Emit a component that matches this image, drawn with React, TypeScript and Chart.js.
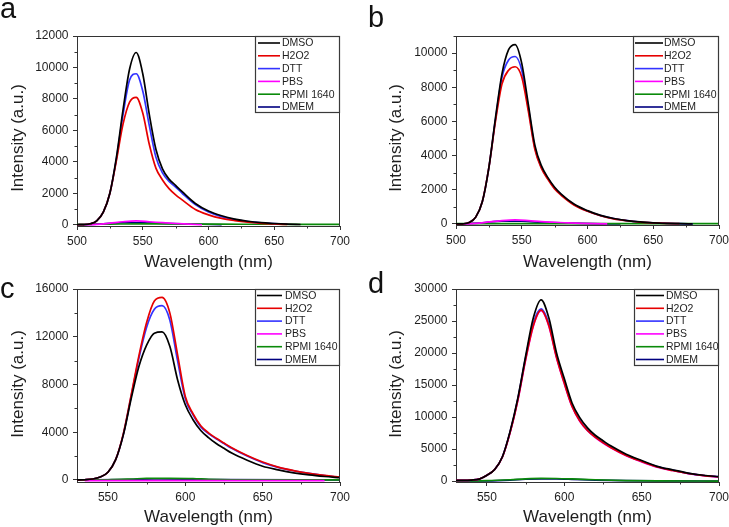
import React, { useEffect, useRef } from "react";
import { Chart, registerables } from "chart.js";
Chart.register(...registerables);

const SERIES_NAMES = ["DMSO", "H2O2", "DTT", "PBS", "RPMI 1640", "DMEM"];
const SERIES_COLORS = ["#000000", "#e60000", "#3333ff", "#ff00ff", "#0a8a0a", "#000080"];
const FONT = '"Liberation Sans", Arial, Helvetica, sans-serif';
const AXIS_COLOR = "#333333";
const TEXT_COLOR = "#1e1e1e";

// ---------- Panel a ----------
const WL_AB = [500, 505, 510, 515, 520, 525, 530, 535, 540, 545, 550, 555, 560, 565, 570, 575, 580, 590, 600, 610, 620, 630, 640, 650, 660, 670, 680, 690, 700];
const A_DMSO = [0, 10, 60, 250, 800, 2000, 4300, 7300, 9900, 10950, 9600, 7000, 4800, 3550, 2900, 2500, 2100, 1350, 870, 570, 360, 220, 130, 80, 40, 15, null, null, null];
const A_H2O2 = [0, 10, 60, 250, 800, 2000, 4100, 6400, 7800, 8100, 7100, 5100, 3600, 2850, 2300, 1900, 1580, 970, 630, 400, 260, 160, 90, 50, 20, null, null, null, null];
const A_DTT = [0, 10, 60, 250, 800, 2000, 4200, 7000, 9200, 9600, 8500, 6300, 4300, 3300, 2750, 2400, 2000, 1280, 810, 520, 330, 200, 120, 70, 30, null, null, null, null];
const A_PBS_WL = [505, 515, 525, 535, 545, 555, 565, 575, 585, 595];
const A_PBS = [0, 20, 100, 190, 240, 190, 130, 80, 40, 0];
const A_RPMI_WL = [500, 525, 550, 575, 600, 625, 650, 675, 700];
const A_RPMI = [20, 40, 60, 50, 40, 30, 30, 25, 25];
const A_DMEM_WL = [505, 520, 535, 550, 565, 580, 595, 610];
const A_DMEM = [0, 60, 130, 120, 90, 60, 30, 0];

// ---------- Panel b ----------
const B_DMSO = [0, 10, 80, 400, 1300, 3300, 6200, 8800, 10200, 10500, 9400, 7000, 4600, 3400, 2700, 2150, 1750, 1150, 780, 500, 320, 200, 120, 70, 40, 20, 5, null, null];
const B_H2O2 = [0, 10, 80, 400, 1300, 3300, 6000, 8200, 9000, 9200, 8600, 6600, 4350, 3250, 2600, 2050, 1680, 1100, 740, 480, 300, 190, 110, 65, 35, 15, null, null, null];
const B_DTT = [0, 10, 80, 400, 1300, 3300, 6100, 8600, 9600, 9800, 9000, 6800, 4450, 3300, 2650, 2100, 1720, 1130, 760, 490, 310, 195, 115, 70, 40, 15, 5, null, null];
const B_PBS_WL = [505, 515, 525, 535, 545, 555, 565, 575, 585, 595, 605, 615];
const B_PBS = [0, 30, 120, 200, 240, 200, 140, 100, 60, 40, 20, 0];
const B_RPMI_WL = [500, 550, 600, 650, 700];
const B_RPMI = [20, 25, 25, 20, 20];
const B_DMEM_WL = [505, 520, 535, 550, 565, 580, 595, 610, 625];
const B_DMEM = [0, 70, 170, 160, 100, 60, 30, 10, 0];

// ---------- Panel c ----------
const WL_CD = [530, 535, 540, 545, 550, 555, 560, 565, 570, 575, 580, 585, 590, 595, 600, 605, 610, 615, 620, 625, 630, 640, 650, 660, 670, 680, 690, 700];
const C_DMSO = [0, 20, 80, 250, 650, 1700, 3800, 6800, 9500, 11300, 12300, 12400, 11200, 8400, 6300, 5050, 4150, 3550, 3050, 2650, 2250, 1650, 1150, 850, 600, 420, 290, 190];
const C_H2O2 = [0, 20, 80, 250, 650, 1700, 3900, 7100, 10400, 13200, 15000, 15300, 14000, 10500, 7000, 5550, 4550, 3950, 3500, 3100, 2700, 2050, 1500, 1080, 790, 560, 380, 230];
const C_DTT = [0, 20, 80, 250, 650, 1700, 3850, 7000, 10200, 12800, 14300, 14600, 13400, 10000, 6800, 5450, 4450, 3880, 3450, 3050, 2650, 2000, 1450, 1050, 770, 550, 370, 220];
const C_PBS_WL = [535, 600, 690];
const C_PBS = [-60, -60, -60];
const C_RPMI_WL = [530, 550, 565, 575, 590, 605, 615, 630, 700];
const C_RPMI = [0, 20, 80, 130, 140, 120, 60, 20, 0];
const C_DMEM_WL = [530, 560, 580, 600, 620, 700];
const C_DMEM = [10, 30, 80, 70, 30, 10];

// ---------- Panel d ----------
const D_DMSO = [100, 100, 150, 300, 900, 1800, 3800, 7800, 13000, 19500, 25500, 28300, 25500, 20000, 16000, 12200, 9900, 8300, 7150, 6300, 5500, 4200, 3200, 2300, 1750, 1250, 900, 680];
const D_H2O2 = [100, 100, 150, 300, 900, 1800, 3750, 7600, 12700, 19000, 24300, 26700, 24300, 19300, 15300, 11700, 9400, 7900, 6850, 6000, 5250, 4000, 3050, 2200, 1650, 1180, 850, 640];
const D_DTT = [100, 100, 150, 300, 900, 1800, 3800, 7700, 12900, 19300, 24700, 26900, 24600, 19500, 15500, 11800, 9500, 7950, 6900, 6050, 5300, 4050, 3100, 2250, 1700, 1200, 870, 650];
const D_PBS = [100, 100, 150, 300, 900, 1800, 3750, 7600, 12600, 18900, 24200, 26600, 24200, 19200, 15200, 11600, 9350, 7850, 6800, 5950, 5200, 3950, 3000, 2180, 1640, 1170, 840, 630];
const D_LOW_WL = [530, 550, 565, 575, 585, 595, 605, 620, 640, 660, 700];
const D_RPMI = [0, 50, 200, 350, 420, 400, 330, 200, 80, 30, 0];
const D_DMEM = [0, 30, 150, 280, 330, 320, 260, 150, 60, 20, 0];

// ---------- Ticks ----------
const X_TICKS_AB = [500, 550, 600, 650, 700];
const X_MINOR_AB = [525, 575, 625, 675];
const X_TICKS_CD = [550, 600, 650, 700];
const X_MINOR_CD = [575, 625, 675];
const Y_TICKS_A = [0, 2000, 4000, 6000, 8000, 10000, 12000];
const Y_MINOR_A = [1000, 3000, 5000, 7000, 9000, 11000];
const Y_TICKS_B = [0, 2000, 4000, 6000, 8000, 10000];
const Y_MINOR_B = [1000, 3000, 5000, 7000, 9000, 11000];
const Y_TICKS_C = [0, 4000, 8000, 12000, 16000];
const Y_MINOR_C = [2000, 6000, 10000, 14000];
const Y_TICKS_D = [0, 5000, 10000, 15000, 20000, 25000, 30000];
const Y_MINOR_D = [2500, 7500, 12500, 17500, 22500, 27500];

const pts = (xs: number[], ys: (number | null)[]) => xs.map((x, i) => ({ x, y: ys[i] }));

const PANELS: any[] = [
  {
    letter: "a", left: 0, top: 0, w: 365, h: 270,
    padding: { left: 0, top: 36, right: 25, bottom: 0 }, yW: 77, xH: 44,
    xMin: 500, xMax: 700, yMin: -80, yMax: 12000,
    xTicks: X_TICKS_AB, xMinor: X_MINOR_AB, yTicks: Y_TICKS_A, yMinor: Y_MINOR_A,
    series: [pts(WL_AB, A_DMSO), pts(WL_AB, A_H2O2), pts(WL_AB, A_DTT), pts(A_PBS_WL, A_PBS), pts(A_RPMI_WL, A_RPMI), pts(A_DMEM_WL, A_DMEM)],
    letterPos: [0, 18], xTitleY: 262, yTitleX: 18, yTitleY: 138,
    legend: { w: 85, h: 77, row0: 7, step: 12.8, l0: 3, l1: 25, tx: 27 },
  },
  {
    letter: "b", left: 365, top: 0, w: 364, h: 270,
    padding: { left: 0, top: 36, right: 10, bottom: 0 }, yW: 91, xH: 45,
    xMin: 500, xMax: 700, yMin: -60, yMax: 11000,
    xTicks: X_TICKS_AB, xMinor: X_MINOR_AB, yTicks: Y_TICKS_B, yMinor: Y_MINOR_B,
    series: [pts(WL_AB, B_DMSO), pts(WL_AB, B_H2O2), pts(WL_AB, B_DTT), pts(B_PBS_WL, B_PBS), pts(B_RPMI_WL, B_RPMI), pts(B_DMEM_WL, B_DMEM)],
    letterPos: [3, 27], xTitleY: 262, yTitleX: 31, yTitleY: 138,
    legend: { w: 86, h: 77, row0: 7, step: 12.8, l0: 2, l1: 30, tx: 31 },
  },
  {
    letter: "c", left: 0, top: 270, w: 365, h: 257,
    padding: { left: 0, top: 19, right: 25, bottom: 0 }, yW: 77, xH: 45,
    xMin: 530, xMax: 700, yMin: -170, yMax: 16000,
    xTicks: X_TICKS_CD, xMinor: X_MINOR_CD, yTicks: Y_TICKS_C, yMinor: Y_MINOR_C,
    series: [pts(WL_CD, C_DMSO), pts(WL_CD, C_H2O2), pts(WL_CD, C_DTT), pts(C_PBS_WL, C_PBS), pts(C_RPMI_WL, C_RPMI), pts(C_DMEM_WL, C_DMEM)],
    letterPos: [0, 28], xTitleY: 247, yTitleX: 18, yTitleY: 114,
    legend: { w: 85, h: 77, row0: 6.5, step: 12.8, l0: 2, l1: 27, tx: 30 },
  },
  {
    letter: "d", left: 365, top: 270, w: 364, h: 257,
    padding: { left: 0, top: 19, right: 10, bottom: 0 }, yW: 91, xH: 45,
    xMin: 530, xMax: 700, yMin: -150, yMax: 30000,
    xTicks: X_TICKS_CD, xMinor: X_MINOR_CD, yTicks: Y_TICKS_D, yMinor: Y_MINOR_D,
    series: [pts(WL_CD, D_DMSO), pts(WL_CD, D_H2O2), pts(WL_CD, D_DTT), pts(WL_CD, D_PBS), pts(D_LOW_WL, D_RPMI), pts(D_LOW_WL, D_DMEM)],
    letterPos: [3, 23], xTitleY: 247, yTitleX: 31, yTitleY: 114,
    legend: { w: 85, h: 77, row0: 6.5, step: 12.8, l0: 2, l1: 30, tx: 32 },
  },
];

function makeDeco(cfg: any) {
  return {
    id: "deco",
    afterDatasetsDraw(chart: any) {
      const { ctx, chartArea: ca, scales } = chart;
      const xs = scales.x, ys = scales.y;
      ctx.save();
      // frame top & right
      ctx.strokeStyle = AXIS_COLOR;
      ctx.lineWidth = 1;
      ctx.beginPath();
      ctx.moveTo(ca.left, Math.round(ca.top) + 0.5);
      ctx.lineTo(ca.right, Math.round(ca.top) + 0.5);
      ctx.moveTo(Math.round(ca.right) - 0.5, ca.top);
      ctx.lineTo(Math.round(ca.right) - 0.5, ca.bottom);
      ctx.stroke();
      // minor ticks
      ctx.beginPath();
      cfg.xMinor.forEach((v: number) => {
        const px = Math.round(xs.getPixelForValue(v)) + 0.5;
        ctx.moveTo(px, ca.bottom);
        ctx.lineTo(px, ca.bottom + 2.5);
      });
      cfg.yMinor.forEach((v: number) => {
        const py = Math.round(ys.getPixelForValue(v)) + 0.5;
        ctx.moveTo(ca.left - 2.5, py);
        ctx.lineTo(ca.left, py);
      });
      ctx.stroke();
      // legend box
      const L = cfg.legend;
      const bx = Math.round(ca.right - L.w), by = Math.round(ca.top);
      ctx.fillStyle = "#ffffff";
      ctx.fillRect(bx, by, L.w, L.h);
      ctx.strokeStyle = "#3a3a3a";
      ctx.lineWidth = 1.2;
      ctx.strokeRect(bx + 0.5, by + 0.5, L.w - 1, L.h - 1);
      ctx.font = `10.5px ${FONT}`;
      ctx.textBaseline = "middle";
      ctx.textAlign = "left";
      chart.data.datasets.forEach((ds: any, i: number) => {
        const ry = by + L.row0 + i * L.step;
        ctx.strokeStyle = ds.borderColor;
        ctx.lineWidth = 1.6;
        ctx.beginPath();
        ctx.moveTo(bx + L.l0, ry);
        ctx.lineTo(bx + L.l1, ry);
        ctx.stroke();
        ctx.fillStyle = TEXT_COLOR;
        ctx.fillText(ds.label, bx + L.tx, ry + 0.5);
      });
      // titles
      ctx.fillStyle = TEXT_COLOR;
      ctx.font = `17px ${FONT}`;
      ctx.textAlign = "center";
      ctx.textBaseline = "middle";
      ctx.fillText("Wavelength (nm)", (ca.left + ca.right) / 2, cfg.xTitleY);
      ctx.save();
      ctx.translate(cfg.yTitleX, cfg.yTitleY);
      ctx.rotate(-Math.PI / 2);
      ctx.fillText("Intensity (a.u.)", 0, 0);
      ctx.restore();
      // panel letter
      ctx.font = `29px ${FONT}`;
      ctx.textAlign = "left";
      ctx.textBaseline = "alphabetic";
      ctx.fillStyle = "#111111";
      ctx.fillText(cfg.letter, cfg.letterPos[0], cfg.letterPos[1]);
      ctx.restore();
    },
  };
}

function Panel({ cfg }: { cfg: any }) {
  const ref = useRef<HTMLCanvasElement>(null);
  useEffect(() => {
    const tickFont = { family: FONT, size: 12 };
    const chart = new Chart(ref.current as HTMLCanvasElement, {
      type: "line",
      data: {
        datasets: cfg.series.map((s: any, i: number) => ({
          label: SERIES_NAMES[i],
          data: s,
          borderColor: SERIES_COLORS[i],
          backgroundColor: SERIES_COLORS[i],
          borderWidth: 1.7,
          pointRadius: 0,
          fill: false,
          cubicInterpolationMode: "monotone",
        })),
      },
      options: {
        responsive: false,
        animation: false,
        devicePixelRatio: 1,
        layout: { padding: cfg.padding },
        plugins: { legend: { display: false }, tooltip: { enabled: false }, title: { display: false } },
        scales: {
          x: {
            type: "linear",
            min: cfg.xMin,
            max: cfg.xMax,
            afterFit: (s: any) => { s.height = cfg.xH; s.paddingLeft = 0; s.paddingRight = 0; },
            afterBuildTicks: (s: any) => { s.ticks = cfg.xTicks.map((v: number) => ({ value: v })); },
            ticks: { callback: (v: any) => String(v), font: tickFont, color: TEXT_COLOR, padding: 4, maxRotation: 0, autoSkip: false },
            grid: { drawOnChartArea: false, drawTicks: true, tickLength: 4, color: AXIS_COLOR },
            border: { display: true, color: AXIS_COLOR, width: 1 },
          },
          y: {
            type: "linear",
            min: cfg.yMin,
            max: cfg.yMax,
            afterFit: (s: any) => { s.width = cfg.yW; s.paddingTop = 0; s.paddingBottom = 0; },
            afterBuildTicks: (s: any) => { s.ticks = cfg.yTicks.map((v: number) => ({ value: v })); },
            ticks: { callback: (v: any) => String(v), font: tickFont, color: TEXT_COLOR, padding: 4.5, autoSkip: false },
            grid: { drawOnChartArea: false, drawTicks: true, tickLength: 4, color: AXIS_COLOR },
            border: { display: true, color: AXIS_COLOR, width: 1 },
          },
        },
      } as any,
      plugins: [makeDeco(cfg)],
    });
    return () => chart.destroy();
  }, []);
  return (
    <canvas
      ref={ref}
      width={cfg.w}
      height={cfg.h}
      style={{ position: "absolute", left: cfg.left, top: cfg.top, width: cfg.w, height: cfg.h }}
    />
  );
}

export default function App() {
  return (
    <div style={{ position: "absolute", left: 0, top: 0, width: 729, height: 527, background: "#ffffff", overflow: "hidden" }}>
      {PANELS.map((p) => (
        <Panel key={p.letter} cfg={p} />
      ))}
    </div>
  );
}
